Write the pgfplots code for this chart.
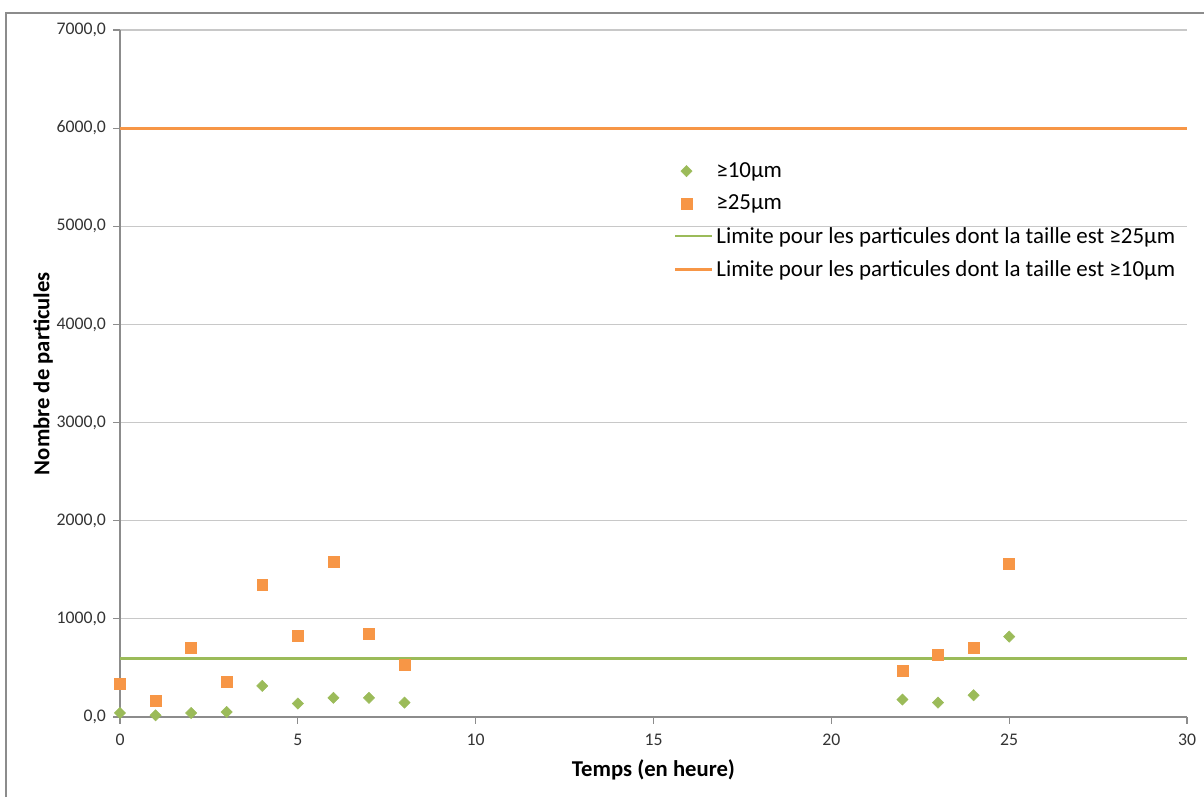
\documentclass[border=0pt]{standalone}
\usepackage{pgfplots}
\pgfplotsset{compat=1.18}
\usepackage{fontspec}
\setmainfont{Carlito}
\definecolor{xgreen}{HTML}{9BBB59}
\definecolor{xorange}{HTML}{F79646}
\definecolor{gridgray}{HTML}{C8C8C8}
\definecolor{axgray}{HTML}{8C8C8C}
\pgfplotsset{limleg/.style={legend image code/.code={\draw[##1, line width=2pt] (0pt,0pt) -- (28pt,0pt);}}}
\begin{document}
\begin{tikzpicture}[x=0.75pt,y=0.75pt]
\useasboundingbox (0,0) rectangle (1204,797);
\draw[axgray, line width=1pt] (6,0) -- (6,784) -- (1204,784);
\begin{axis}[
  scale only axis,
  width=800.25pt, height=515.25pt,
  at={(90pt,60pt)}, anchor=south west,
  xmin=0, xmax=30, ymin=0, ymax=7000,
  xtick={0,5,...,30}, ytick={0,1000,...,7000},
  axis x line=bottom, axis y line=left,
  axis line style={axgray, line width=0.8pt, -},
  tick align=outside, major tick length=5pt,
  tick style={axgray, line width=0.8pt},
  ymajorgrids, grid style={gridgray, line width=0.8pt},
  /pgf/number format/assume math mode=true,
  ticklabel style={font=\fontsize{13.3}{15}\selectfont, text=black!80},
  xticklabel style={yshift=-4pt},
  yticklabel style={xshift=-2pt, /pgf/number format/.cd, fixed, fixed zerofill, precision=1, use comma, 1000 sep={}},
  xlabel={\textbf{Temps (en heure)}},
  ylabel={\textbf{Nombre de particules}},
  label style={font=\fontsize{17}{19}\selectfont},
  xlabel style={at={(axis description cs:0.5,-0.077)}, anchor=center},
  ylabel style={at={(axis description cs:-0.072,0.5)}, anchor=center},
  legend style={draw=none, fill=none, at={(0.515,0.815)}, anchor=north west,
    font=\fontsize{17.2}{19}\selectfont, row sep=7.5pt, cells={anchor=west}},
  legend cell align=left,
]
\addplot[only marks, mark=diamond*, mark size=5.6pt, mark options={xgreen, yscale=0.75}] coordinates {
(0,41) (1,17) (2,41) (3,51) (4,317) (5,137) (6,195) (7,195) (8,147)
(22,178) (23,147) (24,222) (25,819)};
\addlegendentry{≥10µm}
\addplot[only marks, mark=square*, mark size=4.1pt, mark options={xorange}] coordinates {
(0,338) (1,168) (2,710) (3,355) (4,1351) (5,826) (6,1580) (7,846) (8,532)
(22,475) (23,632) (24,706) (25,1563)};
\addlegendentry{≥25µm}
\addplot[xgreen, line width=2.2pt, limleg] coordinates {(0,600) (30,600)};
\addlegendentry{Limite pour les particules dont la taille est ≥25µm}
\addplot[xorange, line width=2.2pt, limleg] coordinates {(0,6000) (30,6000)};
\addlegendentry{Limite pour les particules dont la taille est ≥10µm}
\end{axis}
\end{tikzpicture}
\end{document}
